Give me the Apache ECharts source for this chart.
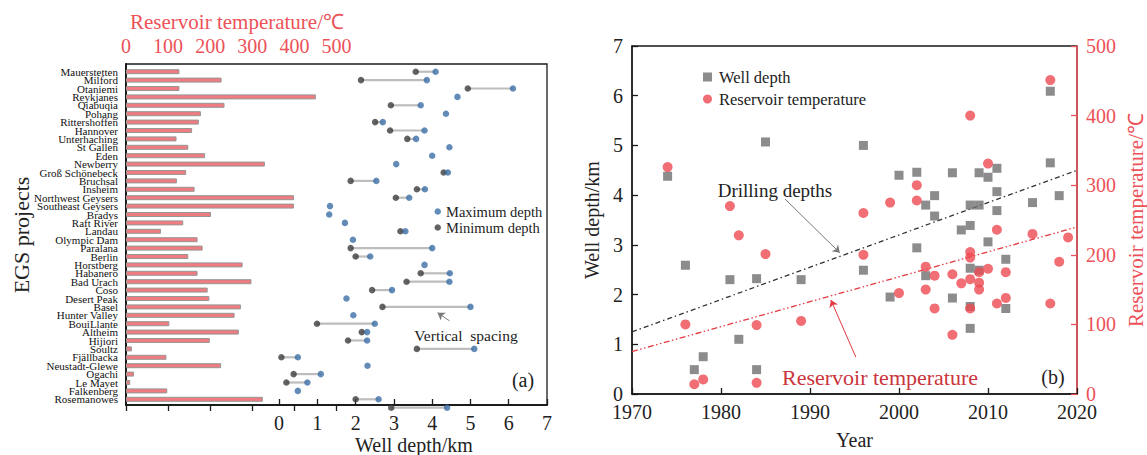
<!DOCTYPE html>
<html>
<head>
<meta charset="utf-8">
<script src="https://cdn.jsdelivr.net/npm/echarts@6/dist/echarts.min.js"></script>
<style>
html,body{margin:0;padding:0;background:#fff;}
#main{width:1147px;height:455px;}
</style>
</head>
<body>
<div id="main"></div>
<script>
// (a) EGS projects, top to bottom
var projects = ['Mauerstetten','Milford','Otaniemi','Reykjanes','Qiabuqia','Pohang','Rittershoffen','Hannover',
  'Unterhaching','St Gallen','Eden','Newberry','Groß Schönebeck','Bruchsal','Insheim','Northwest Geysers',
  'Southeast Geysers','Bradys','Raft River','Landau','Olympic Dam','Paralana','Berlin','Horstberg','Habanero',
  'Bad Urach','Coso','Desert Peak','Basel','Hunter Valley','BouiLlante','Altheim','Hijiori','Soultz',
  'Fjällbacka','Neustadt-Glewe','Ogachi','Le Mayet','Falkenberg','Rosemanowes'];
var projectTemps = [127,227,127,451,234,178,173,157,120,148,188,330,143,121,163,399,399,202,136,83,
  170,182,148,277,170,298,194,198,273,258,103,268,199,14,96,226,19,10,98,325];
// dumbbell rows (41 rows, one more than the bars, as in the figure)
var maxDepths = [4.09,3.86,6.11,4.66,3.70,4.36,2.71,3.80,3.58,4.45,4.00,3.06,4.41,2.54,3.81,3.40,1.33,1.31,1.72,3.30,
  1.93,4.00,2.38,3.80,4.46,4.45,2.95,1.76,5.00,1.94,2.50,2.30,2.30,5.10,0.49,2.31,1.09,0.74,0.49,2.60,4.39];
var minDepths = [3.57,2.14,4.93,null,2.92,null,2.51,2.90,3.35,null,null,null,4.30,1.87,3.60,3.05,null,null,null,3.17,
  null,1.87,2.00,null,3.70,3.33,2.43,null,2.70,null,0.99,2.16,1.80,3.60,0.06,null,0.38,0.19,null,2.00,2.93];
var tempTicks = [0,100,200,300,400,500];
var depthTicks = [0,1,2,3,4,5,6,7];

// (b) scatter by year
var wellYears = [1974,1976,1977,1978,1981,1982,1984,1984,1985,1989,1996,1996,1999,2000,2002,2002,2003,2003,2004,2004,
  2006,2006,2007,2008,2008,2008,2008,2008,2009,2009,2009,2010,2010,2011,2011,2011,2012,2012,2015,2017,2017,2018];
var wellDepths = [4.38,2.59,0.49,0.75,2.30,1.10,2.32,0.49,5.07,2.30,5.00,2.49,1.95,4.40,4.46,2.94,3.80,2.38,3.99,3.58,
  4.45,1.93,3.30,3.80,3.39,2.53,1.76,1.32,4.45,3.80,2.49,4.36,3.06,4.54,4.07,3.69,2.71,1.72,3.85,6.09,4.65,3.99];
var tempYears = [1974,1976,1977,1978,1981,1982,1984,1984,1985,1989,1996,1996,1999,2000,2002,2002,2003,2003,2004,2004,
  2006,2006,2007,2008,2008,2008,2008,2008,2009,2009,2009,2010,2010,2011,2011,2012,2012,2015,2017,2017,2018,2019];
var reservoirTemps = [326,100,14,21,270,228,99,16,201,105,260,200,275,145,300,278,183,150,170,123,
  172,85,159,400,204,196,165,123,175,160,150,331,180,236,130,175,138,230,451,130,190,225];
var trendYears = [1970,2020];
var depthTrend = [1.25,4.5];
var tempTrend = [61,240];

var serif = 'Liberation Serif, Times New Roman, serif';
var red = '#ec5258';
var dark = '#1a1a1a';

function pairs(xs, ys) { return xs.map(function (x, i) { return [x, ys[i]]; }); }
var minPts = [], maxPts = [], links = [];
maxDepths.forEach(function (v, i) {
  if (v != null) maxPts.push([v, i]);
  if (minDepths[i] != null) minPts.push([minDepths[i], i]);
  if (v != null && minDepths[i] != null) links.push([minDepths[i], v, i]);
});

var chart = echarts.init(document.getElementById('main'), null, {renderer: 'svg'});
chart.setOption({
  animation: false,
  textStyle: {fontFamily: serif},
  grid: [
    {left: 126, top: 64, width: 421, height: 341, show: true, borderColor: dark, borderWidth: 1.3},
    {left: 126, top: 67.5, width: 421, height: 336},
    {left: 126, top: 67.5, width: 421, height: 344.4},
    {left: 632, top: 46, width: 446, height: 360, show: true, borderColor: dark, borderWidth: 1.3}
  ],
  xAxis: [
    {gridIndex: 0, type: 'value', position: 'top', min: 0, max: 1000, interval: 100,
      axisLine: {lineStyle: {color: dark, width: 1.5}},
      axisTick: {inside: true, length: 6, customValues: tempTicks, lineStyle: {color: dark, width: 1.3}},
      axisLabel: {customValues: tempTicks, color: red, fontSize: 20, margin: 8, fontFamily: serif},
      splitLine: {show: false}},
    {gridIndex: 0, type: 'value', position: 'bottom', min: -4, max: 7, interval: 1,
      axisLine: {lineStyle: {color: dark, width: 1.5}},
      axisTick: {inside: true, length: 6, customValues: depthTicks, lineStyle: {color: dark, width: 1.3}},
      axisLabel: {customValues: depthTicks, color: '#222', fontSize: 20, margin: 8, fontFamily: serif},
      splitLine: {show: false}},
    {gridIndex: 1, type: 'value', min: 0, max: 1000, show: false},
    {gridIndex: 2, type: 'value', min: -4, max: 7, show: false},
    {gridIndex: 3, type: 'value', min: 1970, max: 2020, interval: 10,
      name: 'Year', nameLocation: 'middle', nameGap: 36,
      nameTextStyle: {fontSize: 20, color: '#222', fontFamily: serif},
      axisLine: {lineStyle: {color: dark, width: 1.5}},
      axisTick: {inside: true, length: 6, lineStyle: {color: dark, width: 1.3}},
      axisLabel: {color: '#222', fontSize: 20, margin: 8, fontFamily: serif,
        formatter: function (v) { return String(v); }},
      splitLine: {show: false}}
  ],
  yAxis: [
    {gridIndex: 0, type: 'value', min: 0, max: 1,
      axisLine: {show: true, lineStyle: {color: dark, width: 2}},
      axisTick: {show: false}, axisLabel: {show: false}, splitLine: {show: false}},
    {gridIndex: 1, type: 'category', inverse: true, data: projects,
      axisLine: {show: false}, axisTick: {show: false},
      axisLabel: {interval: 0, fontSize: 11, color: '#111', margin: 8, fontFamily: serif}},
    {gridIndex: 2, type: 'value', inverse: true, min: -0.5, max: 40.5, show: false},
    {gridIndex: 3, type: 'value', position: 'left', min: 0, max: 7, interval: 1,
      name: 'Well depth/km', nameLocation: 'middle', nameRotate: 90, nameGap: 30,
      nameTextStyle: {fontSize: 20, color: '#222', fontFamily: serif},
      axisLine: {show: true, lineStyle: {color: dark, width: 1.5}},
      axisTick: {inside: true, length: 6, lineStyle: {color: dark, width: 1.3}},
      axisLabel: {color: '#222', fontSize: 20, margin: 9, fontFamily: serif},
      splitLine: {show: false}},
    {gridIndex: 3, type: 'value', position: 'right', min: 0, max: 500, interval: 100,
      name: 'Reservoir temperature/℃', nameLocation: 'middle', nameRotate: 90, nameGap: 48,
      nameTextStyle: {fontSize: 21, color: red, fontFamily: serif},
      axisLine: {show: true, lineStyle: {color: red, width: 1.5}},
      axisTick: {inside: true, length: 6, lineStyle: {color: red, width: 1.3}},
      axisLabel: {color: red, fontSize: 20, margin: 9, fontFamily: serif},
      splitLine: {show: false}}
  ],
  legend: [
    {data: ['Maximum depth', 'Minimum depth'], orient: 'vertical', left: 429.5, top: 199,
      itemWidth: 6.5, itemHeight: 6.5, itemGap: 1, selectedMode: false,
      textStyle: {fontSize: 14.5, color: '#222', fontFamily: serif}},
    {data: ['Well depth', 'Reservoir temperature'], orient: 'vertical', left: 698, top: 63.5,
      itemWidth: 9, itemHeight: 9, itemGap: 5, selectedMode: false,
      textStyle: {fontSize: 16.5, color: '#222', fontFamily: serif, padding: [0, 0, 0, 2]}}
  ],
  graphic: [
    {type: 'text', x: 237, y: 22, style: {text: 'Reservoir temperature/℃', font: '21px ' + serif,
      fill: red, align: 'center', verticalAlign: 'middle', textAlign: 'center', textVerticalAlign: 'middle'}},
    {type: 'text', x: 414, y: 445, style: {text: 'Well depth/km', font: '20px ' + serif,
      fill: '#222', align: 'center', verticalAlign: 'middle', textAlign: 'center', textVerticalAlign: 'middle'}},
    {type: 'text', x: 21, y: 235, rotation: Math.PI / 2, style: {text: 'EGS projects', font: '22px ' + serif,
      fill: '#222', align: 'center', verticalAlign: 'middle', textAlign: 'center', textVerticalAlign: 'middle'}},
    {type: 'text', x: 466, y: 335, style: {text: 'Vertical  spacing', font: '15.5px ' + serif,
      fill: '#222', align: 'center', verticalAlign: 'middle', textAlign: 'center', textVerticalAlign: 'middle'}},
    {type: 'text', x: 523, y: 380, style: {text: '(a)', font: '20px ' + serif,
      fill: '#222', align: 'center', verticalAlign: 'middle', textAlign: 'center', textVerticalAlign: 'middle'}},
    {type: 'text', x: 775, y: 190, style: {text: 'Drilling depths', font: '19px ' + serif,
      fill: '#222', align: 'center', verticalAlign: 'middle', textAlign: 'center', textVerticalAlign: 'middle'}},
    {type: 'text', x: 880, y: 377, style: {text: 'Reservoir temperature', font: '22px ' + serif,
      fill: '#c9353b', align: 'center', verticalAlign: 'middle', textAlign: 'center', textVerticalAlign: 'middle'}},
    {type: 'text', x: 1053, y: 377, style: {text: '(b)', font: '20px ' + serif,
      fill: '#222', align: 'center', verticalAlign: 'middle', textAlign: 'center', textVerticalAlign: 'middle'}}
  ],
  series: [
    {type: 'bar', name: 'temp', xAxisIndex: 2, yAxisIndex: 1, data: projectTemps, barWidth: 5,
      itemStyle: {color: '#f07b80', borderColor: '#969696', borderWidth: 1}, silent: true},
    {type: 'custom', name: 'span', xAxisIndex: 3, yAxisIndex: 2, data: links, encode: {x: [0, 1], y: 2},
      silent: true,
      renderItem: function (params, api) {
        var a = api.coord([api.value(0), api.value(2)]);
        var b = api.coord([api.value(1), api.value(2)]);
        return {type: 'line', shape: {x1: a[0], y1: a[1], x2: b[0], y2: b[1]},
          style: {stroke: '#bdbdbd', lineWidth: 2.2}};
      }},
    {type: 'scatter', name: 'Minimum depth', xAxisIndex: 3, yAxisIndex: 2, data: minPts,
      symbolSize: 6.5, itemStyle: {color: '#3c3c3c'}, silent: true},
    {type: 'scatter', name: 'Maximum depth', xAxisIndex: 3, yAxisIndex: 2, data: maxPts,
      symbolSize: 6.5, itemStyle: {color: '#3b6ea6'}, silent: true,
      markLine: {silent: true, symbol: ['none', 'arrow'], symbolSize: 7, label: {show: false},
        lineStyle: {color: '#7a7a7a', type: 'solid', width: 1},
        data: [[{coord: [4.45, 29.65]}, {coord: [4.14, 28.69]}]]}},
    {type: 'line', name: 'depthTrend', xAxisIndex: 4, yAxisIndex: 3, data: pairs(trendYears, depthTrend),
      showSymbol: false, silent: true, z: 1,
      lineStyle: {color: '#333', width: 1.3, type: [5, 3, 1.5, 3]},
      markLine: {silent: true, symbol: ['none', 'arrow'], symbolSize: 7, label: {show: false},
        lineStyle: {color: '#7a7a7a', type: 'solid', width: 1},
        data: [[{coord: [1987.2, 3.92]}, {coord: [1993.35, 2.84]}]]}},
    {type: 'line', name: 'tempTrend', xAxisIndex: 4, yAxisIndex: 4, data: pairs(trendYears, tempTrend),
      showSymbol: false, silent: true, z: 1,
      lineStyle: {color: '#e23a41', width: 1.3, type: [6, 2.5, 1.5, 2.5, 1.5, 2.5]},
      markLine: {silent: true, symbol: ['none', 'arrow'], symbolSize: 7, label: {show: false},
        lineStyle: {color: '#e23a41', type: 'solid', width: 1},
        data: [[{coord: [1995.15, 53]}, {coord: [1992.35, 135]}]]}},
    {type: 'scatter', name: 'Well depth', xAxisIndex: 4, yAxisIndex: 3, data: pairs(wellYears, wellDepths),
      symbol: 'rect', symbolSize: 9, itemStyle: {color: '#6f6f71'}, silent: true},
    {type: 'scatter', name: 'Reservoir temperature', xAxisIndex: 4, yAxisIndex: 4,
      data: pairs(tempYears, reservoirTemps),
      symbol: 'circle', symbolSize: 10, itemStyle: {color: '#ef4a52'}, silent: true}
  ]
});
</script>
</body>
</html>
